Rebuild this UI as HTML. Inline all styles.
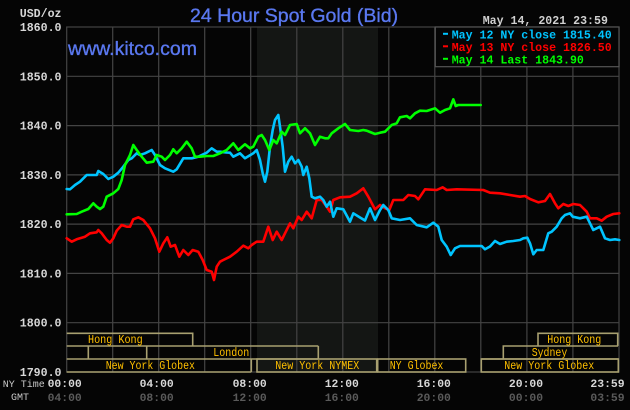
<!DOCTYPE html>
<html><head><meta charset="utf-8"><style>
html,body{margin:0;padding:0;background:#050505;width:630px;height:410px;overflow:hidden}
svg{display:block}
.m{font-family:"Liberation Mono",monospace;font-weight:bold}
</style></head><body>
<svg width="630" height="410" viewBox="0 0 630 410" xmlns="http://www.w3.org/2000/svg">
<rect x="0" y="0" width="630" height="410" fill="#050505"/>
<rect x="257" y="27" width="121" height="345" fill="#141614"/>
<g stroke="#444" stroke-width="1.2" fill="none">
<line x1="66.7" y1="76.3" x2="619" y2="76.3"/>
<line x1="66.7" y1="125.6" x2="619" y2="125.6"/>
<line x1="66.7" y1="174.9" x2="619" y2="174.9"/>
<line x1="66.7" y1="224.1" x2="619" y2="224.1"/>
<line x1="66.7" y1="273.4" x2="619" y2="273.4"/>
<line x1="66.7" y1="322.7" x2="619" y2="322.7"/>
<line x1="112.7" y1="27" x2="112.7" y2="372"/>
<line x1="158.7" y1="27" x2="158.7" y2="372"/>
<line x1="204.7" y1="27" x2="204.7" y2="372"/>
<line x1="250.7" y1="27" x2="250.7" y2="372"/>
<line x1="296.8" y1="27" x2="296.8" y2="372"/>
<line x1="342.8" y1="27" x2="342.8" y2="372"/>
<line x1="388.8" y1="27" x2="388.8" y2="372"/>
<line x1="434.8" y1="27" x2="434.8" y2="372"/>
<line x1="480.8" y1="27" x2="480.8" y2="372"/>
<line x1="526.9" y1="27" x2="526.9" y2="372"/>
<line x1="572.9" y1="27" x2="572.9" y2="372"/>
<rect x="66.7" y="27" width="552.3" height="345"/>
</g>
<g stroke="#a8a070" stroke-width="1.6" fill="none">
<polyline points="66.7,333.3 192.7,333.3 192.7,346"/>
<polyline points="538,346 538,333.3 617.7,333.3 617.7,346"/>
<line x1="66.7" y1="346" x2="318.3" y2="346"/>
<line x1="88.3" y1="346" x2="88.3" y2="359"/>
<line x1="146.7" y1="346" x2="146.7" y2="359"/>
<line x1="318.3" y1="346" x2="318.3" y2="359"/>
<line x1="66.7" y1="359" x2="318.3" y2="359"/>
<polyline points="503.3,359 503.3,346 618,346"/>
<line x1="481.3" y1="359" x2="618.3" y2="359"/>
<line x1="251.3" y1="359" x2="251.3" y2="372"/>
<line x1="66.7" y1="372" x2="251.3" y2="372"/>
<rect x="257" y="359" width="119.7" height="13"/>
<rect x="377.7" y="359" width="88" height="13"/>
<rect x="481.3" y="359" width="137" height="13"/>
</g>
<g font-family="Liberation Mono, monospace" font-size="12" fill="#ffc000">
<text x="88" y="343" textLength="54.7" lengthAdjust="spacingAndGlyphs">Hong Kong</text>
<text x="547.3" y="343" textLength="54" lengthAdjust="spacingAndGlyphs">Hong Kong</text>
<text x="213.3" y="356" textLength="36" lengthAdjust="spacingAndGlyphs">London</text>
<text x="531.7" y="356" textLength="35.6" lengthAdjust="spacingAndGlyphs">Sydney</text>
<text x="105.7" y="369" textLength="89.3" lengthAdjust="spacingAndGlyphs">New York Globex</text>
<text x="275.3" y="369" textLength="84" lengthAdjust="spacingAndGlyphs">New York NYMEX</text>
<text x="389.7" y="369" textLength="53.7" lengthAdjust="spacingAndGlyphs">NY Globex</text>
<text x="504.3" y="369" textLength="90" lengthAdjust="spacingAndGlyphs">New York Globex</text>
</g>
<g fill="none" stroke-width="2.6" stroke-linejoin="round" stroke-linecap="round">
<polyline stroke="#ff0000" points="66.7,238.3 71.7,241.7 76.7,239.3 85,236.7 90,233.3 96.7,232.3 98.3,230 101.7,233.3 106.7,240 110,242.7 113.3,238.3 116.7,230.7 121.7,225 126.7,226.7 130,226.7 133.3,219.3 138.3,217.3 143.3,220 150,228.3 155,238.3 159.3,251.7 163.3,243.3 167.3,237.3 170.7,246.7 175,245 179.3,256.7 183.3,250 188.3,255 192.7,250 198.3,251.7 202.7,260 206.7,270 211.7,271.7 214,280 216.7,266.7 220,261.7 223.3,260 230,256.7 236.7,251.7 243.3,245.7 248.3,248.3 251.7,245 256.7,241.7 263.3,241.7 268.3,226.7 272.7,240 276.7,231.7 281.7,240 285,233.3 290,223.3 293.3,228.3 298.3,216.7 301.7,220 306.7,211.7 311.7,218.3 316.7,200 321.7,200 326.7,206.7 330,211.7 333.3,200 340,197.3 350,196.7 356.7,193.3 363.3,188.3 368.3,196.7 375,209.3 380,205 385,208.3 389.3,210 393.3,200 403.3,200 408.3,195 415,196 418.3,199.3 425,189.3 436.7,190 442.7,187.3 446.7,190 456.7,189.3 483.3,190 490,192.7 500,193.3 510,195 520,196.7 525,196 530,199 538.3,202.3 545,201 550,194 555,203.3 558.3,208.3 563.3,204 568.3,206 573.3,204 580,205 586.7,211.7 590,218.3 596.7,218.3 601.7,220.7 606.7,216.7 613.3,214 619.3,213.3"/>
<polyline stroke="#00c4ff" points="66.7,189 70,189.3 75,185 80,181.7 85,176.7 86.7,175 96.7,175 98.3,171 103.3,174 108.3,179 113.3,176.7 118.3,172.7 123.3,166.7 128.3,160 131.7,158.3 136.7,153.3 140,155 145,153.3 151.7,150 155,155 160,165 165,168.3 173.3,171.7 176.7,169.3 183.3,158.3 191.7,158.3 198.3,156.7 206.7,152.7 211.7,148.3 216.7,151.7 220,151.7 226,152.5 230,152.7 233.3,156.7 240,153.3 245,158.3 253.3,153.3 256.7,150 260,160 262.7,173.3 265,181.7 267.3,171.7 270,146.7 272.7,130 275,120 278.3,115 280,126.7 282.7,146.7 285,171.7 288.3,161.7 291.7,156.7 295,163.3 298.3,160 301.7,166.7 303.3,175 306.7,166.7 309.3,178.3 311.7,196.7 315,198.3 320,196.7 323.3,200 326.7,206.7 330,201.7 333.3,216.7 336.7,208.3 343.3,209.3 350,221.7 353.3,213.3 360,217.5 365,220.5 370,208.3 375,220 380,210 383.3,205 388.3,210 391.7,218.3 400,220 410,218.3 416.7,225 426.7,227.3 433.3,222.7 438.3,226.7 441.7,240 446.7,246.7 450.7,255 455,248.3 460,246 481.7,246 485,249.3 490,246.5 495,241 500,244 506.7,241.7 513.3,241 520,240 523.3,238.3 527.3,237.7 530,243.3 533.3,254.3 536.7,250 543.3,250 548.3,233.3 551.7,231.7 556.7,226.7 561.7,218.3 565,215 570,213.3 572.7,216.7 580,218.3 586.7,216.7 590,223.3 593.3,230 596.7,228.3 600,226.7 605,238.3 610,240 615,239.3 619.3,240"/>
<polyline stroke="#00ff00" points="66.7,214.3 76.7,214 81.7,211.7 88.3,209 93.3,203.3 96.7,206.7 100,209 103.3,206.7 106.7,196.7 113.3,193.3 118.3,189 121.7,180 125,165 130,155 133.3,145 136.7,150 141.7,156.7 146.7,162.7 153.3,161.7 156.7,155 161.7,156.7 165,160 170,155 173.3,149.3 176.7,153.3 181.7,148.3 186.7,141.7 191.7,148.3 195,156.7 200,156.7 206.7,156 213.3,156 220,153.3 226.7,150 233.3,143.3 238.3,150 245,144.3 250,148.3 253.3,146.7 258.3,136.7 261.7,135 265,140 269.3,150 273.3,140 276.7,143.3 281.7,131.7 285,135 290,125 296.7,124 300,133.3 305,128.3 310,133.3 315,145 320,136.7 325,138.3 328.3,138.3 331.7,133.3 338.3,128.3 345,124 350,130 358.3,131 363.3,130 366.7,130.7 370,132 375,134 380,132.7 385,131.7 391.7,125 396.7,123.3 400,117.3 406.7,116 410,118.3 415,113.3 420,110.7 426.7,111 435,108.3 440,112.7 445,110 450,108.3 453.3,99.3 455.7,106 458.3,105 480.7,105"/>
</g>
<rect x="435.3" y="27" width="183.7" height="39.7" fill="#050505" stroke="#555" stroke-width="1.2"/>
<rect x="443" y="32.8" width="5" height="2" fill="#00c4ff"/>
<rect x="443" y="45.3" width="5" height="2" fill="#ff0000"/>
<rect x="443" y="57.8" width="5" height="2" fill="#00ff00"/>
<g class="m" font-size="11.6">
<text x="451.7" y="38.5" fill="#00c4ff">May 12 NY close 1815.40</text>
<text x="451.7" y="51" fill="#ff0000">May 13 NY close 1826.50</text>
<text x="451.7" y="63.5" fill="#00ff00">May 14 Last 1843.90</text>
</g>
<text x="190" y="22" font-family="Liberation Sans, sans-serif" font-size="19.5" fill="#5a78f0" stroke="#5a78f0" stroke-width="0.35">24 Hour Spot Gold (Bid)</text>
<text x="68" y="55" font-family="Liberation Sans, sans-serif" font-size="19.5" fill="#5a78f0" stroke="#5a78f0" stroke-width="0.35">www.kitco.com</text>
<text x="482.7" y="24" class="m" font-size="11.6" fill="#d0d0d0">May 14, 2021 23:59</text>
<g class="m" font-size="11.6" fill="#d8d8d8" text-anchor="end">
<text x="61.5" y="17">USD/oz</text>
<text x="61.5" y="31">1860.0</text>
<text x="61.5" y="80.3">1850.0</text>
<text x="61.5" y="129.6">1840.0</text>
<text x="61.5" y="178.9">1830.0</text>
<text x="61.5" y="228.1">1820.0</text>
<text x="61.5" y="277.4">1810.0</text>
<text x="61.5" y="326.7">1800.0</text>
<text x="61.5" y="376">1790.0</text>
</g>
<g font-family="Liberation Mono, monospace" font-size="10" fill="#c8c8c8">
<text x="2.7" y="387">NY Time</text>
<text x="11" y="400">GMT</text>
</g>
<g class="m" font-size="11.4" fill="#d8d8d8" text-anchor="middle">
<text x="64.7" y="387">00:00</text>
<text x="156.7" y="387">04:00</text>
<text x="249.7" y="387">08:00</text>
<text x="341.8" y="387">12:00</text>
<text x="433.8" y="387">16:00</text>
<text x="526" y="387">20:00</text>
<text x="607.5" y="387">23:59</text>
</g>
<g class="m" font-size="11.4" fill="#5a5a5a" text-anchor="middle">
<text x="64.7" y="401">04:00</text>
<text x="156.7" y="401">08:00</text>
<text x="249.7" y="401">12:00</text>
<text x="341.8" y="401">16:00</text>
<text x="433.8" y="401">20:00</text>
<text x="526" y="401">00:00</text>
<text x="607.5" y="401">03:59</text>
</g>
</svg>
</body></html>
